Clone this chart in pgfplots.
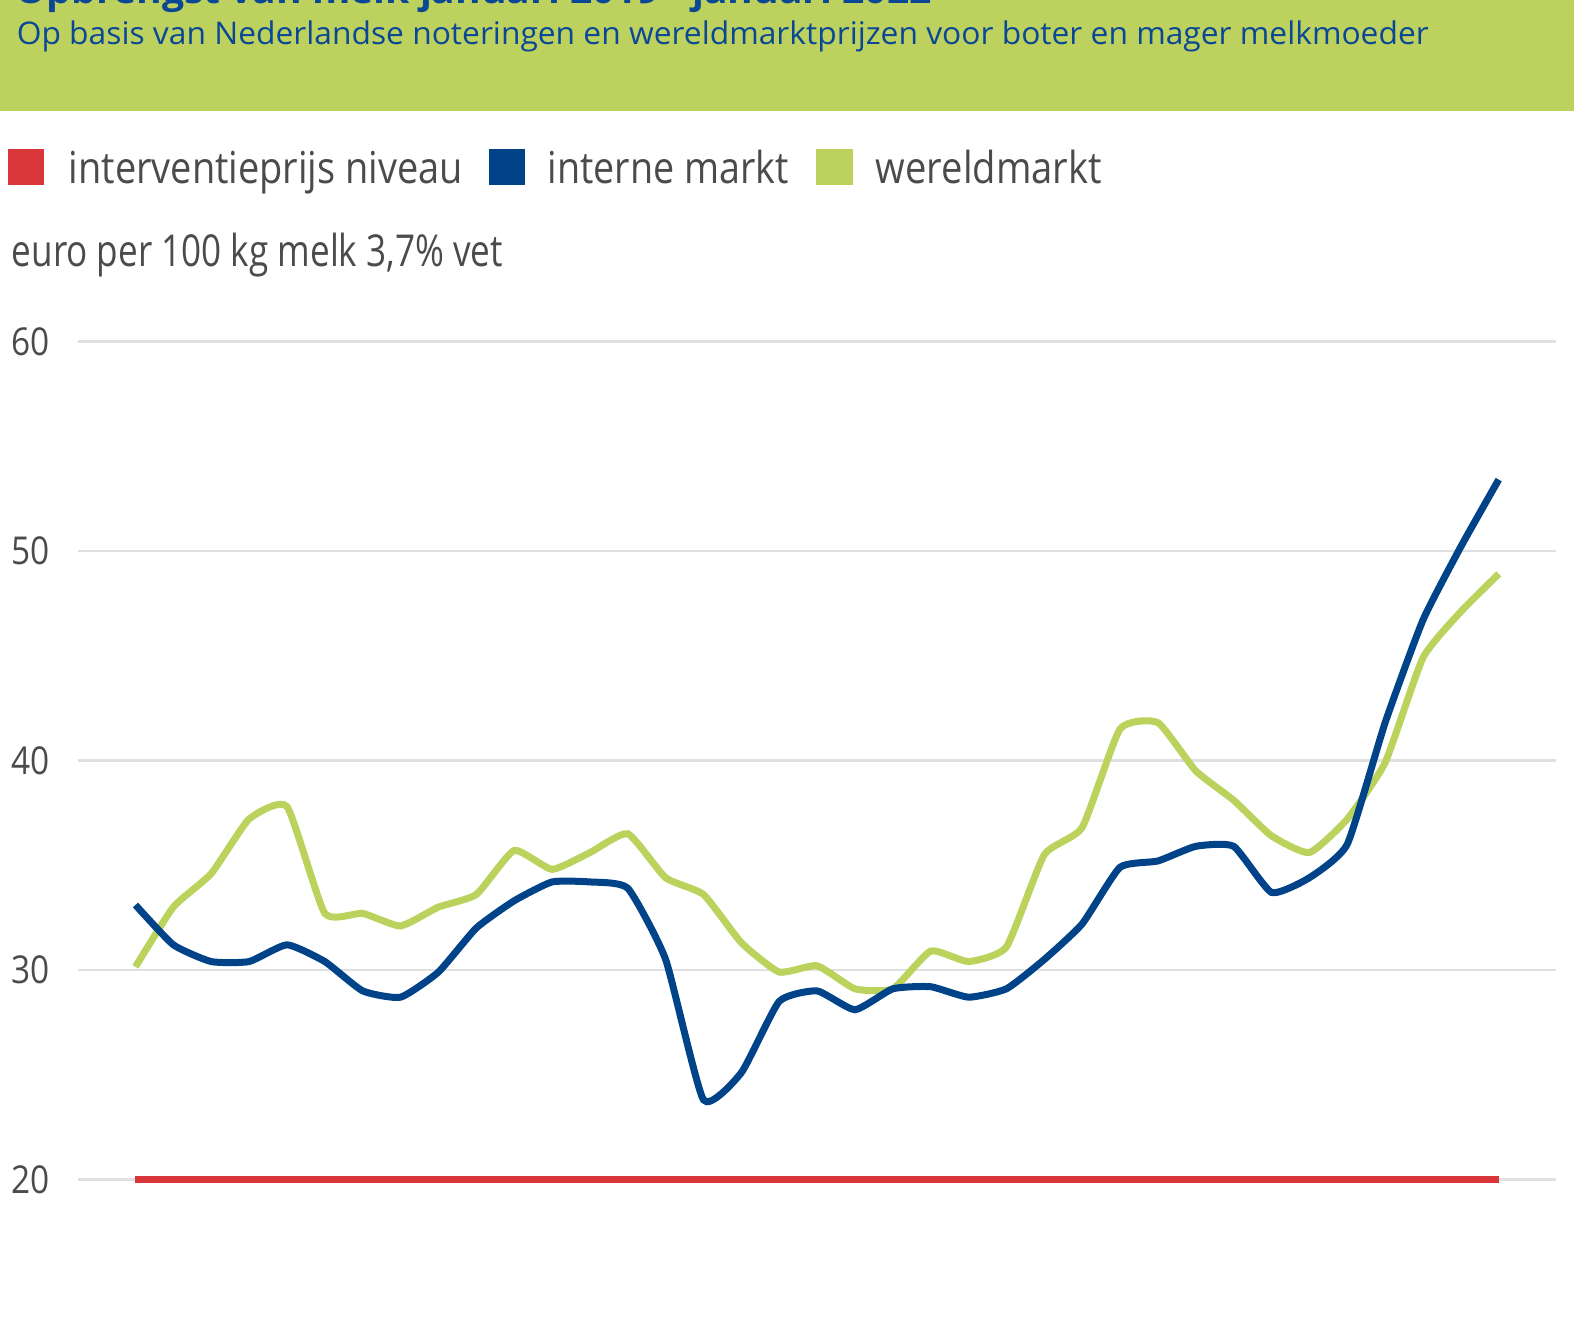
\documentclass[border=0pt]{standalone}
\usepackage{fontspec}
\setmainfont{Open Sans}
\usepackage{pgfplots}
\pgfplotsset{compat=1.18}
\definecolor{hdrgreen}{RGB}{189,209,94}
\definecolor{hdrblue}{RGB}{10,72,150}
\definecolor{lgreen}{RGB}{187,210,92}
\definecolor{lblue}{RGB}{0,67,137}
\definecolor{lred}{RGB}{216,54,56}
\definecolor{txtgray}{RGB}{75,75,75}
\definecolor{gridgray}{RGB}{224,224,224}
\pgfplotstableread{
m wereld intern
0 30.15 33.1
1 33.0 31.2
2 34.6 30.4
3 37.2 30.4
4 37.8 31.2
5 32.7 30.4
6 32.7 29.0
7 32.1 28.7
8 33.0 29.9
9 33.6 32.0
10 35.7 33.3
11 34.8 34.2
12 35.6 34.2
13 36.5 33.9
14 34.4 30.5
15 33.6 23.8
16 31.3 25.1
17 29.9 28.5
18 30.2 29.0
19 29.1 28.1
20 29.1 29.1
21 30.9 29.2
22 30.4 28.7
23 31.1 29.1
24 35.5 30.5
25 36.8 32.2
26 41.5 34.9
27 41.8 35.2
28 39.5 35.9
29 38.1 35.9
30 36.4 33.7
31 35.6 34.4
32 37.2 36.0
33 39.9 41.8
34 44.9 46.7
35 47.1 50.2
36 48.9 53.4
}\datatable
\pgfplotstableread{
m interv
0 20
36 20
}\intervtable
\begin{document}
\begin{tikzpicture}
\useasboundingbox (0,0) rectangle (393.5pt,334.5pt);
\fill[hdrgreen] (0,306.75pt) rectangle (393.5pt,345pt);
\node[anchor=base west, inner sep=0, text=hdrblue, font=\bfseries\fontsize{9.5}{11}\selectfont] at (3.75pt,333.5pt) {\resizebox{229pt}{\height}{Opbrengst van melk januari 2019 - januari 2022}};
\node[anchor=base west, inner sep=0, text=hdrblue, font=\fontsize{7.8}{9}\selectfont] at (4pt,323.25pt) {\resizebox{353pt}{\height}{Op basis van Nederlandse noteringen en wereldmarktprijzen voor boter en mager melkmoeder}};
% legend
\fill[lred] (2pt,288.25pt) rectangle (11pt,297.25pt);
\fill[lblue] (122.25pt,288.25pt) rectangle (131.25pt,297.25pt);
\fill[lgreen] (204pt,288.25pt) rectangle (213.25pt,297.25pt);
\begin{scope}[every node/.style={anchor=base west, inner sep=0, text=txtgray, font=\fontsize{11}{13}\selectfont}]
\node at (17pt,288.5pt) {\resizebox{98.5pt}{\height}{interventieprijs niveau}};
\node at (136.75pt,288.5pt) {\resizebox{60.25pt}{\height}{interne markt}};
\node at (218.75pt,288.5pt) {\resizebox{56.5pt}{\height}{wereldmarkt}};
\node at (2.75pt,267.75pt) {\resizebox{122.75pt}{\height}{euro per 100 kg melk 3,7\% vet}};
\end{scope}
\begin{axis}[
  at={(19.575pt,39.625pt)}, anchor=south west,
  scale only axis, width=369.4pt, height=209.55pt,
  xmin=-1.51, xmax=37.51, ymin=20, ymax=60,
  axis line style={draw=none},
  xtick=\empty,
  ytick={20,30,40,50,60},
  yticklabel={\scalebox{0.87}[1]{\pgfmathprintnumber{\tick}}},
  ymajorgrids, grid style={color=gridgray, line width=0.6pt},
  major tick length=0pt,
  clip=false,
  /pgf/number format/assume math mode=true,
  yticklabel style={anchor=east, inner sep=0pt, xshift=-7pt, text=txtgray, font=\fontsize{9.6}{11}\selectfont},
]
\addplot[lred, line width=1.75pt] table[x=m, y=interv] {\intervtable};
\addplot[lgreen, line width=1.75pt, smooth, tension=0.3] table[x=m, y=wereld] {\datatable};
\addplot[lblue, line width=1.75pt, smooth, tension=0.3] table[x=m, y=intern] {\datatable};
\end{axis}
\end{tikzpicture}
\end{document}
